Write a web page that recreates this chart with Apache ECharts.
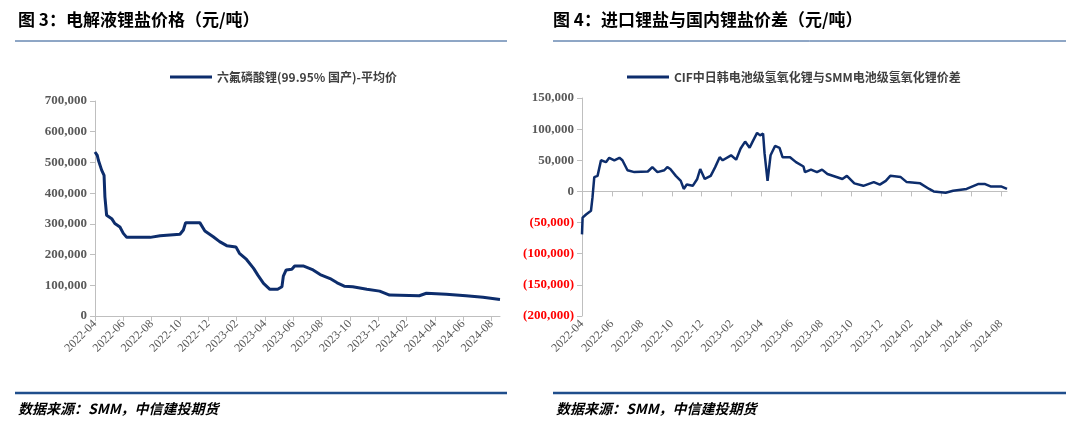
<!DOCTYPE html>
<html><head><meta charset="utf-8">
<script src="https://cdn.jsdelivr.net/npm/echarts@6/dist/echarts.min.js"></script>
<style>html,body{margin:0;padding:0;background:#fff}#c{width:1080px;height:443px}</style>
</head><body><div id="c"></div>
<script>
// month index from 2022-04
const leftMonths=[0,0.16,0.24,0.47,0.64,0.7,0.82,1.18,1.4,1.76,2,2.24,3.9,4.6,6.0,6.24,6.4,7.4,7.76,8.35,8.8,9.3,9.95,10.2,10.7,11.2,11.5,11.9,12.35,12.9,13.2,13.3,13.5,13.9,14.1,14.7,15.4,15.9,16.6,17.1,17.6,18.2,19.2,20.1,20.8,22.9,23.4,24.8,26.2,27.4,28.6];
const leftValues=[534000,523000,507000,475000,458000,388000,328000,317000,301000,290000,269000,256000,256000,261000,266000,280000,304000,304000,277000,258000,242000,229000,225000,204000,184000,155000,133000,106000,87000,87000,95000,130000,150000,152000,163000,163000,150000,135000,122000,108000,97000,95000,87000,81000,68000,66000,74000,71000,66000,61000,54000];
const rightMonths=[0,0.04,0.27,0.6,0.7,0.82,1.04,1.27,1.38,1.6,1.82,2.16,2.5,2.7,3.04,3.5,4.4,4.7,5.04,5.5,5.7,5.9,6.27,6.6,6.8,7,7.4,7.7,7.9,8.2,8.6,8.9,9.2,9.4,9.96,10.3,10.6,10.9,11.2,11.4,11.7,11.9,12.1,12.2,12.4,12.6,12.9,13.2,13.4,13.9,14.3,14.8,14.9,15.3,15.7,16.04,16.4,16.9,17.4,17.7,18.2,18.8,19.5,19.9,20.3,20.6,21.3,21.7,22.6,23.2,23.5,24.3,24.8,25.7,26.5,26.9,27.3,28,28.4];
const rightValues=[-69000,-42000,-37000,-31000,-10000,23000,25000,50000,53000,47000,54000,50000,54000,50000,34000,31000,32000,39000,31000,34000,39000,36000,25000,17000,4000,11000,9000,20000,36000,20000,25000,39000,55000,50000,58000,51000,69000,80000,70000,80000,94000,90000,93000,61000,17000,58000,73000,70000,55000,55000,47000,40000,31000,35000,31000,35000,28000,24000,20000,25000,13000,9000,15000,11000,17000,25000,23000,15000,13000,4000,0,-2000,1000,4000,12000,12000,8000,8000,4000];
const leftName='六氟磷酸锂(99.95% 国产)-平均价';
const rightName='CIF中日韩电池级氢氧化锂与SMM电池级氢氧化锂价差';

const ch=echarts.init(document.getElementById('c'));
const fmtNum=v=>Math.abs(v).toLocaleString('en-US');
const monthLabel=v=>{const m=3+Math.round(v);const y=2022+Math.floor(m/12);return y+'-'+String(m%12+1).padStart(2,'0');};
const lbl={fontFamily:'Liberation Serif, serif',fontSize:13,fontWeight:'bold',color:'#595959'};
const xAx=(gi,max)=>({type:'value',gridIndex:gi,min:0,max:max,interval:2,
  axisLine:{lineStyle:{color:'#bfbfbf'}},axisTick:{show:true,lineStyle:{color:'#bfbfbf'}},splitLine:{show:false},
  axisLabel:Object.assign({},lbl,{fontWeight:'normal',fontSize:12,rotate:45,formatter:monthLabel,showMaxLabel:false,margin:6})});
const blue='#0d2d6c';
ch.setOption({
  animation:false,
  graphic:[
    {type:'text',left:18,top:11,style:{text:'图 3：电解液锂盐价格（元/吨）',font:'bold 17px "Noto Sans CJK SC"',fill:'#000'}},
    {type:'text',left:553,top:11,style:{text:'图 4：进口锂盐与国内锂盐价差（元/吨）',font:'bold 17px "Noto Sans CJK SC"',fill:'#000'}},
    {type:'line',shape:{x1:15,y1:41,x2:507,y2:41},style:{stroke:'#1f4e8c',lineWidth:1}},
    {type:'line',shape:{x1:553,y1:41,x2:1066,y2:41},style:{stroke:'#1f4e8c',lineWidth:1}},
    {type:'line',shape:{x1:15,y1:393,x2:507,y2:393},style:{stroke:'#1f4e8c',lineWidth:2.5}},
    {type:'line',shape:{x1:553,y1:393,x2:1066,y2:393},style:{stroke:'#1f4e8c',lineWidth:2.5}},
    {type:'text',left:18,top:402,style:{text:'数据来源：SMM，中信建投期货',font:'italic bold 14px "Noto Sans CJK SC"',fill:'#000'}},
    {type:'text',left:556,top:402,style:{text:'数据来源：SMM，中信建投期货',font:'italic bold 14px "Noto Sans CJK SC"',fill:'#000'}}
  ],
  legend:[
    {data:[leftName],left:165,top:66,itemWidth:42,itemHeight:3,icon:'rect',textStyle:{fontFamily:'Noto Sans CJK SC',fontSize:12,fontWeight:'bold',color:'#404040'}},
    {data:[rightName],left:622,top:66,itemWidth:42,itemHeight:3,icon:'rect',textStyle:{fontFamily:'Noto Sans CJK SC',fontSize:12,fontWeight:'bold',color:'#404040'}}
  ],
  grid:[{left:95,right:580,top:101,bottom:127},{left:582,right:73,top:98,bottom:127}],
  xAxis:[xAx(0,28.6),xAx(1,28.4)],
  yAxis:[
    {type:'value',gridIndex:0,min:0,max:700000,interval:100000,splitLine:{show:false},
     axisLine:{show:true,lineStyle:{color:'#bfbfbf'}},axisTick:{show:true,lineStyle:{color:'#bfbfbf'}},
     axisLabel:Object.assign({},lbl,{formatter:fmtNum})},
    {type:'value',gridIndex:1,min:-200000,max:150000,interval:50000,splitLine:{show:false},
     axisLine:{show:true,onZero:false,lineStyle:{color:'#bfbfbf'}},axisTick:{show:true,lineStyle:{color:'#bfbfbf'}},
     axisLabel:Object.assign({},lbl,{formatter:v=>v<0?'('+fmtNum(v)+')':fmtNum(v),color:v=>v<0?'#ff0000':'#595959'})}
  ],
  series:[
    {name:leftName,type:'line',xAxisIndex:0,yAxisIndex:0,showSymbol:false,lineStyle:{color:blue,width:3},itemStyle:{color:blue},data:leftMonths.map((m,i)=>[m,leftValues[i]])},
    {name:rightName,type:'line',xAxisIndex:1,yAxisIndex:1,showSymbol:false,lineStyle:{color:blue,width:2.5},itemStyle:{color:blue},data:rightMonths.map((m,i)=>[m,rightValues[i]])}
  ]
});
</script></body></html>
